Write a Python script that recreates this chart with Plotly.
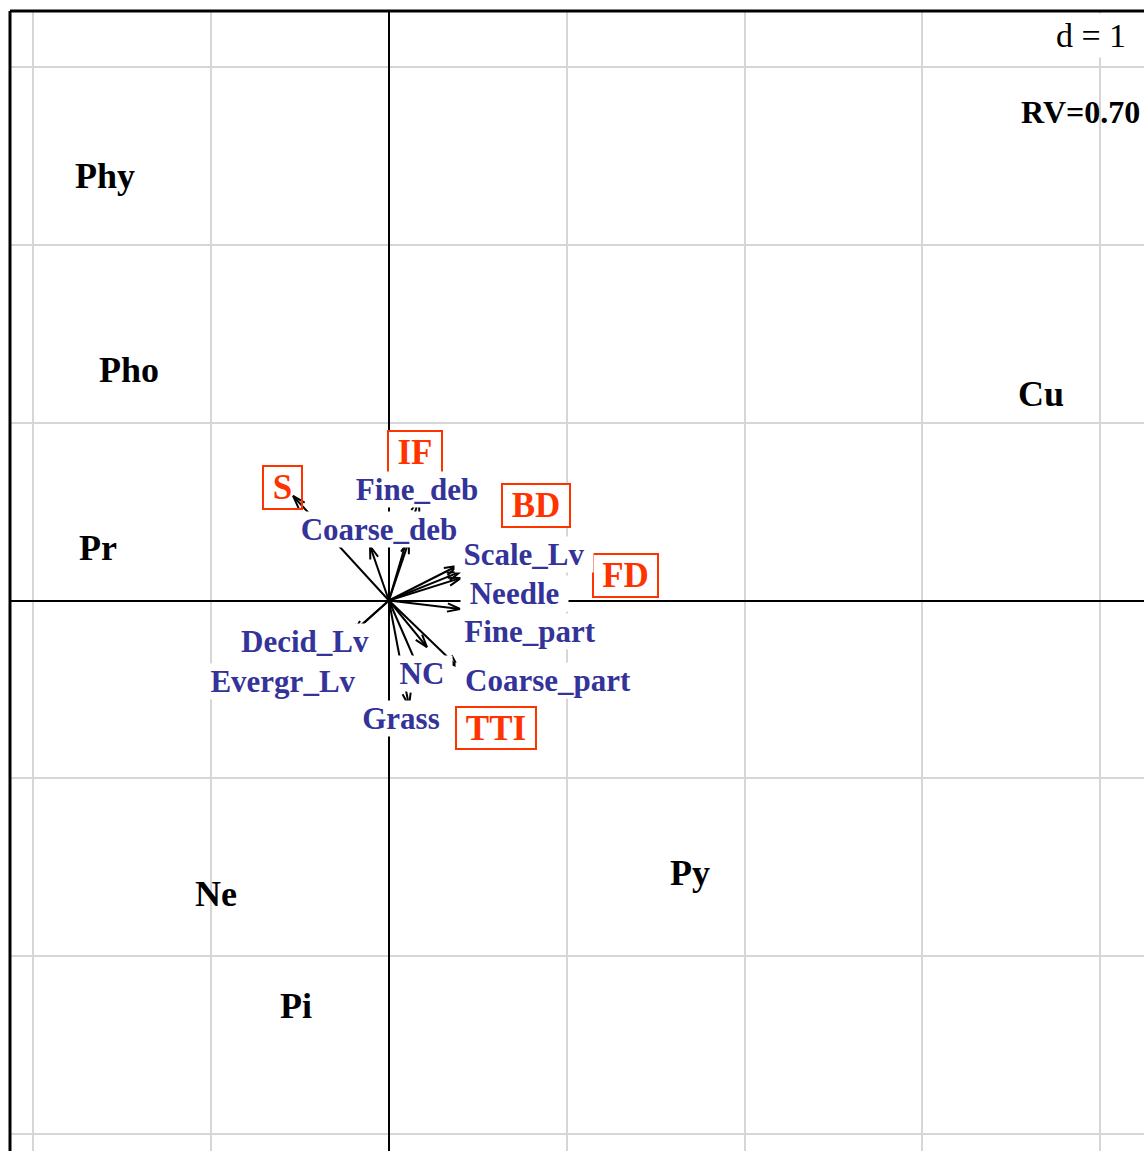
import numpy as np
import plotly.graph_objects as go

# ---------------- data (in d=1 units) ----------------
site_labels = ["Phy", "Pho", "Pr", "Ne", "Pi", "Py", "Cu"]
site_x = [-1.597, -1.462, -1.636, -0.972, -0.522, 1.694, 3.667]
site_y = [2.385, 1.296, 0.295, -1.651, -2.281, -1.533, 1.161]

# arrow tips (arrows start at the origin)
arrow_x = [-0.539, -0.106, 0.113, 0.169, 0.383, 0.400, 0.406, 0.400, 0.214, 0.388, 0.175, 0.113, -0.200, -0.222]
arrow_y = [0.588, 0.306, 0.335, 0.571, 0.194, 0.161, 0.127, -0.048, -0.262, -0.374, -0.402, -0.593, -0.180, -0.197]

var_labels = ["Fine_deb", "Coarse_deb", "Scale_Lv", "Needle", "Fine_part",
              "Coarse_part", "NC", "Grass", "Decid_Lv", "Evergr_Lv"]
var_x = [0.158, -0.053, 0.760, 0.706, 0.791, 0.895, 0.186, 0.068, -0.472, -0.593]
var_y = [0.627, 0.397, 0.257, 0.042, -0.172, -0.448, -0.408, -0.666, -0.228, -0.453]

env_labels = ["IF", "BD", "FD", "S", "TTI"]
env_x = [0.147, 0.827, 1.333, -0.596, 0.602]
env_y = [0.838, 0.537, 0.138, 0.638, -0.717]

rv_text = "RV=0.70"
d_text = "d = 1"

# ---------------- style ----------------
SERIF = "Liberation Serif"
RED = "#FF3300"
BLUE = "#333399"
W, H = 1144, 1151
ML, MT = 10, 11
UNIT = 177.8
X0PX, Y0PX = 388.9, 600.5    # origin position in the screenshot
PW, PH = W - ML, H - MT      # plot area size in px
xr = [-(X0PX - ML) / UNIT, -(X0PX - ML) / UNIT + PW / UNIT]
yr = [(Y0PX - MT) / UNIT - PH / UNIT, (Y0PX - MT) / UNIT]

# box sizes (px) for label backgrounds
var_box_w = {"Fine_deb": 140, "Coarse_deb": 176, "Scale_Lv": 138, "Needle": 107,
             "Fine_part": 150, "Coarse_part": 184, "NC": 60, "Grass": 94,
             "Decid_Lv": 146, "Evergr_Lv": 164}
env_box = {"IF": (56, 44), "BD": (70, 45), "FD": (67, 45), "S": (41, 45), "TTI": (82, 44)}

# ---------------- arrows ----------------
ax_list, ay_list = [], []
head_len, head_ang = 0.075, np.deg2rad(18)
for tx, ty in zip(arrow_x, arrow_y):
    th = np.arctan2(ty, tx)
    ax_list += [0, tx, None]
    ay_list += [0, ty, None]
    b1x = tx - head_len * np.cos(th + head_ang)
    b1y = ty - head_len * np.sin(th + head_ang)
    b2x = tx - head_len * np.cos(th - head_ang)
    b2y = ty - head_len * np.sin(th - head_ang)
    ax_list += [b1x, tx, b2x, None]
    ay_list += [b1y, ty, b2y, None]

fig = go.Figure()
fig.add_trace(go.Scatter(x=ax_list, y=ay_list, mode="lines",
                         line=dict(color="black", width=2),
                         hoverinfo="skip", showlegend=False))

annotations = []
# environmental (red boxed) labels
for lab, x, y in zip(env_labels, env_x, env_y):
    bw, bh = env_box[lab]
    annotations.append(dict(
        x=x, y=y, xref="x", yref="y", text=lab, showarrow=False,
        font=dict(family=SERIF, size=35, color=RED, weight="bold"),
        bgcolor="rgba(0,0,0,0)" if lab == "S" else "white",
        bordercolor=RED, borderwidth=2, borderpad=0,
        width=bw - 4, height=bh - 4, xanchor="center", yanchor="middle"))
# variable (blue) labels
for lab, x, y in zip(var_labels, var_x, var_y):
    annotations.append(dict(
        x=x, y=y, xref="x", yref="y", text=lab, showarrow=False,
        font=dict(family=SERIF, size=31, color=BLUE, weight="bold"),
        bgcolor="white", borderpad=0, width=var_box_w[lab],
        xanchor="center", yanchor="middle"))
# site labels
for lab, x, y in zip(site_labels, site_x, site_y):
    annotations.append(dict(
        x=x, y=y, xref="x", yref="y", text=lab, showarrow=False,
        font=dict(family=SERIF, size=36, color="black", weight="bold"),
        xanchor="center", yanchor="middle"))
# d = 1 and RV
annotations.append(dict(
    x=1, y=1, xref="paper", yref="paper", text=d_text, showarrow=False,
    font=dict(family=SERIF, size=34, color="black"),
    bgcolor="white", borderpad=3, width=98, yshift=-2,
    xanchor="right", yanchor="top"))
annotations.append(dict(
    x=(1142 - ML) / PW, y=1 - (112 - MT) / PH, xref="paper", yref="paper",
    text=rv_text, showarrow=False,
    font=dict(family=SERIF, size=32, color="black", weight="bold"),
    xanchor="right", yanchor="middle"))

axis_common = dict(showgrid=True, gridcolor="#d6d6d6", gridwidth=2,
                   dtick=1, tick0=0, zeroline=True, zerolinecolor="black",
                   zerolinewidth=2, showticklabels=False, ticks="",
                   showline=False, fixedrange=True)

fig.update_layout(
    width=W, height=H,
    margin=dict(l=ML, r=0, t=MT, b=0, pad=0),
    paper_bgcolor="white", plot_bgcolor="white",
    xaxis=dict(range=xr, **axis_common),
    yaxis=dict(range=yr, **axis_common),
    annotations=annotations,
    shapes=[
        dict(type="line", xref="paper", yref="paper", x0=0, x1=0, y0=0, y1=1,
             line=dict(color="black", width=3)),
        dict(type="line", xref="paper", yref="paper", x0=0, x1=1, y0=1, y1=1,
             line=dict(color="black", width=3)),
    ],
    showlegend=False,
)

fig.write_html(
    "out.html",
    config={"displayModeBar": False},
    post_script="document.body.style.margin='0';document.body.style.overflow='hidden';",
)
